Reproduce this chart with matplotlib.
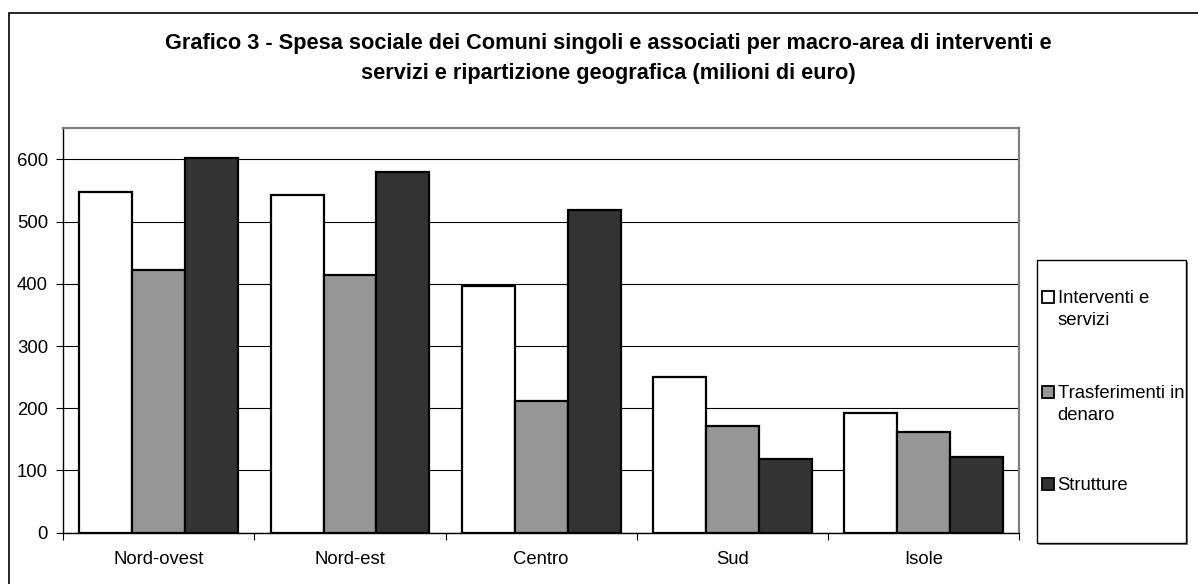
import matplotlib
matplotlib.use("Agg")
import matplotlib.pyplot as plt
from matplotlib.patches import Rectangle
import numpy as np

plt.rcParams['font.family'] = ['Liberation Sans', 'DejaVu Sans']

categories = ["Nord-ovest", "Nord-est", "Centro", "Sud", "Isole"]
series_names = ["Interventi e\nservizi", "Trasferimenti in\ndenaro", "Strutture"]
interventi = [548, 543, 396, 251, 193]
trasferimenti = [422, 415, 211, 172, 162]
strutture = [603, 580, 519, 118, 121]
series_values = [interventi, trasferimenti, strutture]
colors = ["#FFFFFF", "#969696", "#333333"]
yticks = [0, 100, 200, 300, 400, 500, 600]
title_lines = ["Grafico 3 - Spesa sociale dei Comuni singoli e associati per macro-area di interventi e",
               "servizi e ripartizione geografica (milioni di euro)"]

W, H = 1198, 584
fig = plt.figure(figsize=(W / 100, H / 100), dpi=100)

def fx(px):
    return px / W

def fy(py):
    return 1 - py / H

FS = 13.3

# outer frame
fig.patches.append(Rectangle((fx(9), fy(600)), fx(1210) - fx(9), fy(13) - fy(600),
                             transform=fig.transFigure, fill=False, edgecolor="#000000",
                             linewidth=1.2, zorder=0))

ax = fig.add_axes([fx(63.3), fy(532.7), fx(1019) - fx(63.3), fy(128.3) - fy(532.7)])
x = np.arange(len(categories))
w = 0.277
for i, (vals, col) in enumerate(zip(series_values, colors)):
    ax.bar(x + (i - 1) * w, vals, width=w, color=col, edgecolor="#000000",
           linewidth=1.6, zorder=3)

ax.set_xlim(-0.5, len(categories) - 0.5)
ax.set_ylim(0, 650)
ax.set_yticks(yticks)
ax.set_yticklabels([str(v) for v in yticks], fontsize=FS)
ax.yaxis.grid(True, color="#000000", linewidth=0.8, zorder=1)
ax.set_axisbelow(True)

ax.set_xticks(x)
ax.set_xticklabels(categories, fontsize=FS)
ax.set_xticks(np.arange(-0.5, len(categories)), minor=True)
ax.tick_params(axis='x', which='major', length=0, pad=13)
ax.tick_params(axis='x', which='minor', length=5, direction='out', width=0.8)
ax.tick_params(axis='y', which='major', length=5, direction='out', width=0.8, pad=6)

for s in ["top", "right"]:
    ax.spines[s].set_color("#808080")
    ax.spines[s].set_linewidth(1.6)
for s in ["left", "bottom"]:
    ax.spines[s].set_color("#000000")
    ax.spines[s].set_linewidth(1.0)

# title
fig.text(fx(608), fy(43), title_lines[0], ha="center", va="center",
         fontsize=15.7, fontweight="bold")
fig.text(fx(608), fy(73), title_lines[1], ha="center", va="center",
         fontsize=15.7, fontweight="bold")

# legend
fig.patches.append(Rectangle((fx(1038.5), fy(544.5)), fx(1186) - fx(1036.7), fy(260) - fy(542.7),
                             transform=fig.transFigure, facecolor="#808080", edgecolor="none",
                             zorder=1))
fig.patches.append(Rectangle((fx(1036.7), fy(542.7)), fx(1186) - fx(1036.7), fy(260) - fy(542.7),
                             transform=fig.transFigure, facecolor="#FFFFFF", edgecolor="#000000",
                             linewidth=1.0, zorder=2))
entry_y = [296.7, 391.7, 483]
for name, col, ey in zip(series_names, colors, entry_y):
    fig.patches.append(Rectangle((fx(1042), fy(ey + 6.5)), fx(12), fy(0) - fy(12),
                                 transform=fig.transFigure, facecolor=col, edgecolor="#000000",
                                 linewidth=1.3, zorder=3))
    for k, line in enumerate(name.split("\n")):
        fig.text(fx(1057.5), fy(ey + 6.7 + 22 * k), line, ha="left", va="baseline",
                 fontsize=FS, zorder=4)

fig.savefig("out.png", dpi=100)
